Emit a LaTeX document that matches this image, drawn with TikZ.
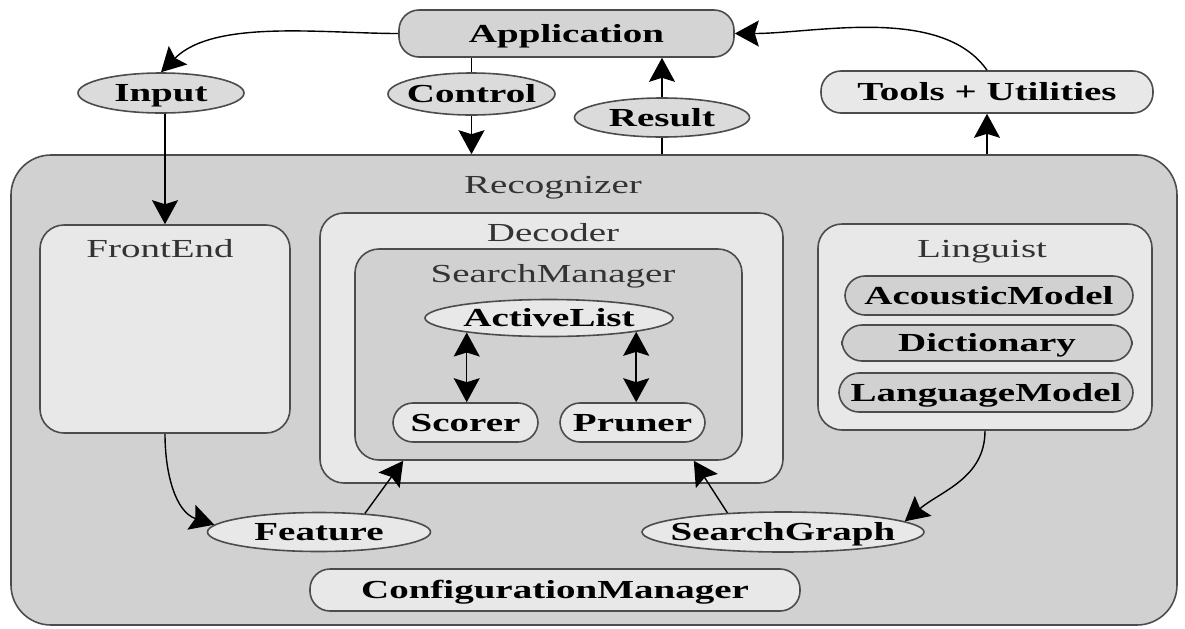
\documentclass[tikz,border=0pt]{standalone}
\usepackage{fontspec}
\setmainfont{Liberation Serif}[FakeStretch=1.5]
\usetikzlibrary{shapes.geometric,arrows.meta}
\begin{document}
\begin{tikzpicture}[x=0.5pt, y=0.5pt, >={Stealth[length=12pt,width=13pt,inset=2pt]}]
      \tikzset{
	  recognizerbox/.style={rectangle, rounded corners=20pt, draw=black!70, line width=0.8pt, fill=black!18},
	  subsystem/.style={rectangle, rounded corners=12pt, draw=black!70, line width=0.8pt, fill=black!9},
	  searchbox/.style={subsystem, fill=black!18},
	  dataitem/.style={ellipse, draw=black!70, line width=0.8pt, fill=black!9, inner xsep=-8pt, inner ysep=0pt, text height=8.6pt, text depth=0pt, font=\fontsize{13}{15}\selectfont\bfseries},
	  module/.style={rectangle, rounded corners=10pt, draw=black!70, line width=0.8pt, fill=black!9, inner sep=0pt, text height=8.6pt, text depth=0pt, font=\fontsize{13}{15}\selectfont\bfseries},
	  boxlabel/.style={inner sep=0pt, text height=8.6pt, text depth=0pt, text=black!80, font=\fontsize{13}{15}\selectfont},
	  flow/.style={draw=black, line width=0.7pt}
      }

      \useasboundingbox (0,0) rectangle (1185,-628);

      % application side
      \node[module, fill=black!17, minimum width=167.5pt, minimum height=23.5pt] (application) at (566.5,-33.5) {Application};
      \node[dataitem, fill=black!14, minimum width=83pt, minimum height=20pt] (input) at (161,-93) {Input};
      \node[dataitem, fill=black!14, minimum width=83.5pt, minimum height=21pt] (control) at (471.5,-94) {Control};
      \node[dataitem, fill=black!14, minimum width=87.5pt, minimum height=19.5pt] (result) at (662,-117.5) {Result};
      \node[module, minimum width=166pt, minimum height=21pt] (tools) at (987,-92) {Tools + Utilities};

      % recognizer
      \node[recognizerbox, minimum width=583pt, minimum height=235pt] (recognizer) at (594,-390) {};
      \node[boxlabel] (recognizerlabel) at (553,-185) {Recognizer};

      \node[subsystem, minimum width=125pt, minimum height=104pt] (frontend) at (165,-329) {};
      \node[boxlabel] (frontendlabel) at (160,-248.5) {FrontEnd};

      \node[subsystem, minimum width=231.5pt, minimum height=135pt] (decoder) at (551.5,-348) {};
      \node[boxlabel] (decoderlabel) at (553,-233) {Decoder};
      \node[searchbox, minimum width=193.5pt, minimum height=105.5pt] (searchmanager) at (548.5,-354.5) {};
      \node[boxlabel] (searchmanagerlabel) at (553,-273.5) {SearchManager};
      \node[dataitem, minimum width=124pt, minimum height=18.5pt] (activelist) at (549,-318) {ActiveList};
      \node[module, minimum width=72.5pt, minimum height=19.5pt] (scorer) at (465.5,-422.5) {Scorer};
      \node[module, minimum width=72.5pt, minimum height=19.5pt] (pruner) at (632.5,-422.5) {Pruner};

      \node[subsystem, minimum width=167pt, minimum height=103pt] (linguist) at (985,-327) {};
      \node[boxlabel] (linguistlabel) at (982,-248.5) {Linguist};
      \node[module, fill=black!18, minimum width=144pt, minimum height=19.5pt] (acousticmodel) at (989,-295.5) {AcousticModel};
      \node[module, fill=black!18, minimum width=145pt, minimum height=18pt] (dictionary) at (987,-343) {Dictionary};
      \node[module, fill=black!18, minimum width=147pt, minimum height=19.5pt] (languagemodel) at (986,-392.5) {LanguageModel};

      \node[dataitem, minimum width=111.5pt, minimum height=19.5pt] (feature) at (319,-532) {Feature};
      \node[dataitem, minimum width=141pt, minimum height=20pt] (searchgraph) at (783,-532) {SearchGraph};
      \node[module, minimum width=245pt, minimum height=21pt] (configurationmanager) at (555,-590) {ConfigurationManager};

      % connectors
      \draw[flow,->] (application.west) to[out=180,in=45,looseness=0.8] (input.north);
      \draw[flow] (application.south -| control.north) -- (control.north);
      \draw[flow,->] (control.south) -- (control.south |- recognizer.north);
      \draw[flow] (result.south |- recognizer.north) -- (result.south);
      \draw[flow,->] (result.north) -- (result.north |- application.south);
      \draw[flow,->] (tools.south |- recognizer.north) -- (tools.south);
      \draw[flow,->] (tools.north) to[out=125,in=0,looseness=0.8] (application.east);
      \draw[flow,->] (frontend.north |- input.south) -- (frontend.north);
      \draw[flow,<->] (activelist.190) -- (activelist.190 |- scorer.north);
      \draw[flow,<->] (activelist.351) -- (activelist.351 |- pruner.north);
      \draw[flow,->] (frontend.south) to[out=-90,in=162] (feature.176);
      \draw[flow,->] (feature.22) -- ([xshift=24.5pt]searchmanager.south west);
      \draw[flow,->] (searchgraph.161) -- ([xshift=-24.5pt]searchmanager.south east);
      \draw[flow,->] (linguist.south) to[out=-90,in=40] (searchgraph.5);
\end{tikzpicture}
\end{document}
